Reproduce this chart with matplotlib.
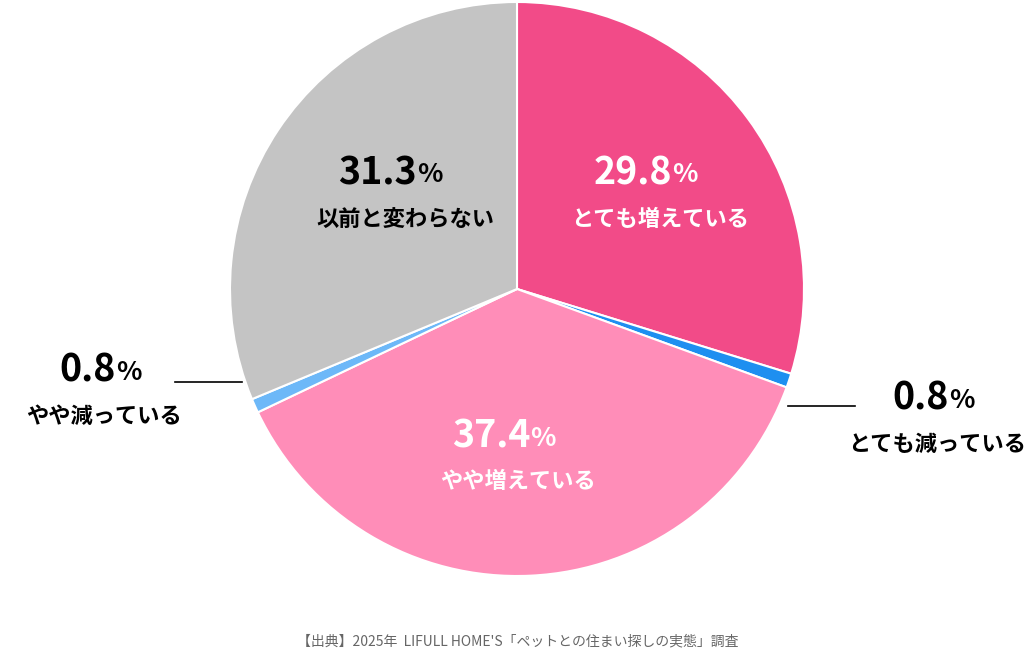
import numpy as np
import matplotlib
matplotlib.use("Agg")
import matplotlib.pyplot as plt

plt.rcParams['font.family'] = ['Noto Sans CJK JP', 'DejaVu Sans']

labels = ["とても増えている", "とても減っている", "やや増えている", "やや減っている", "以前と変わらない"]
values = [29.8, 0.8, 37.4, 0.8, 31.3]
colors = ["#F24B88", "#1E8FF0", "#FF8DB8", "#6DB8F8", "#C4C4C4"]
txt_colors = ["white", "black", "white", "black", "black"]
# label anchors (pixel coords, y from top)
pos = [(660, 195), (937, 420), (518, 458), (104, 392), (405, 195)]

W, H = 1036, 654
fig = plt.figure(figsize=(W / 100, H / 100), dpi=100)
ax = fig.add_axes([0, 0, 1, 1])
ax.set_xlim(0, W)
ax.set_ylim(0, H)
ax.set_aspect("equal")
ax.axis("off")

cx, cy, R = 517, H - 289, 287
ax.pie(values, colors=colors, startangle=90, counterclock=False,
       center=(cx, cy), radius=R, frame=True,
       wedgeprops=dict(edgecolor="white", linewidth=1.5))
ax.set_xlim(0, W)
ax.set_ylim(0, H)
ax.axis("off")

for lab, v, c, (x, y) in zip(labels, values, txt_colors, pos):
    yy = H - y
    t = ax.text(x + 12, yy + 22, f"{v:.1f}", fontsize=27, fontweight="bold",
                color=c, ha="right", va="center")
    ax.text(x + 12, yy + 20, "%", fontsize=19, fontweight="bold",
            color=c, ha="left", va="center")
    ax.text(x, yy - 24, lab, fontsize=16, fontweight="bold",
            color=c, ha="center", va="center")

# leader lines
ax.plot([175, 242], [H - 382, H - 382], color="black", lw=1.2)
ax.plot([788, 855], [H - 406, H - 406], color="black", lw=1.2)

ax.text(W / 2, H - 641, "【出典】2025年  LIFULL HOME'S「ペットとの住まい探しの実態」調査",
        fontsize=10, color="#666666", ha="center", va="center")

fig.savefig("out.png", dpi=100)
